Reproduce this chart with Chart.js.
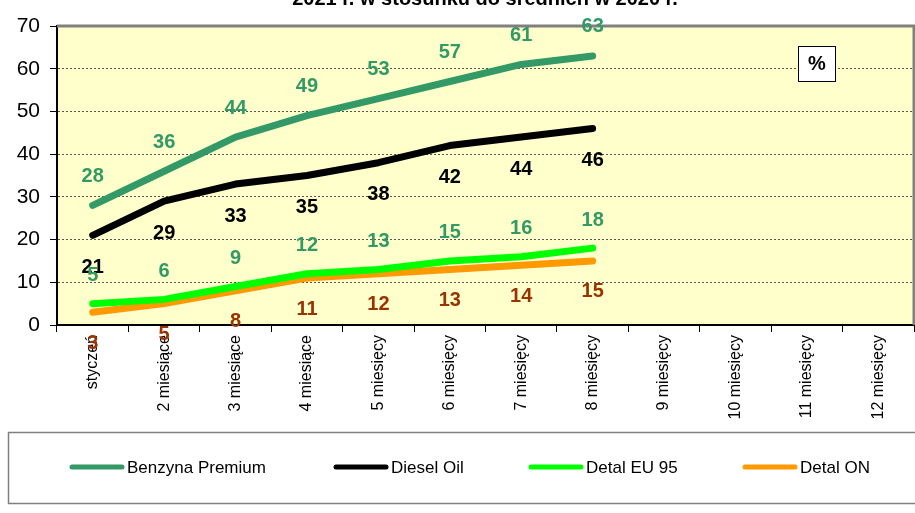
<!DOCTYPE html>
<html><head><meta charset="utf-8">
<script src="https://cdn.jsdelivr.net/npm/chart.js@4/dist/chart.umd.min.js"></script>
<style>html,body{margin:0;padding:0;background:#fff}#wrap{width:915px;height:513px;position:relative}</style>
</head><body><div id="wrap"><canvas id="c" width="915" height="513"></canvas></div>
<script>
const categories = ['styczeń','2 miesiące','3 miesiące','4 miesiące','5 miesięcy','6 miesięcy','7 miesięcy','8 miesięcy','9 miesięcy','10 miesięcy','11 miesięcy','12 miesięcy'];
const benzynaPremium = [28,36,44,49,53,57,61,63];
const dieselOil = [21,29,33,35,38,42,44,46];
const detalEU95 = [5,6,9,12,13,15,16,18];
const detalON = [3,5,8,11,12,13,14,15];
const seriesNames = ['Benzyna Premium','Diesel Oil','Detal EU 95','Detal ON'];
const yMin = 0, yMax = 70, yStep = 10;
const titleText = '2021 r. w stosunku do średnich w 2020 r.';
const unitText = '%';

const FONT = "'Liberation Sans', Arial, sans-serif";
const lineColors = ['#339966','#000000','#00FF00','#FF9900'];
const labelColors = ['#339966','#000000','#339966','#993300'];
const labelOffsets = [-29, 32, -28, 31];

const bgPlugin = {
  id: 'bg',
  beforeDraw(chart) {
    const {ctx, chartArea: a} = chart;
    ctx.save();
    ctx.fillStyle = '#FFFFCC';
    ctx.fillRect(a.left, a.top, a.right - a.left, a.bottom - a.top);
    ctx.fillStyle = '#000';
    ctx.font = 'bold 20px ' + FONT;
    ctx.textAlign = 'center';
    ctx.textBaseline = 'alphabetic';
    ctx.fillText(titleText, 485, 5);
    ctx.restore();
  },
  beforeDatasetsDraw(chart) {
    const {ctx, chartArea: a} = chart;
    ctx.save();
    ctx.strokeStyle = '#808080';
    ctx.lineWidth = 3;
    ctx.beginPath();
    ctx.moveTo(a.left, a.top);
    ctx.lineTo(a.right, a.top);
    ctx.lineTo(a.right, a.bottom);
    ctx.stroke();
    ctx.fillStyle = '#fff';
    ctx.fillRect(798, 46, 37, 35);
    ctx.strokeStyle = '#000';
    ctx.lineWidth = 1;
    ctx.strokeRect(798.5, 46.5, 37, 35);
    ctx.fillStyle = '#000';
    ctx.font = 'bold 20px ' + FONT;
    ctx.textAlign = 'center';
    ctx.textBaseline = 'middle';
    ctx.fillText(unitText, 817, 64);
    ctx.restore();
  },
  afterDatasetsDraw(chart) {
    const {ctx} = chart;
    ctx.save();
    ctx.font = 'bold 20px ' + FONT;
    ctx.textAlign = 'center';
    ctx.textBaseline = 'middle';
    chart.data.datasets.forEach((ds, i) => {
      const meta = chart.getDatasetMeta(i);
      ctx.fillStyle = labelColors[i];
      meta.data.forEach((pt, j) => {
        const v = ds.data[j];
        if (v == null) return;
        ctx.fillText(String(v), pt.x, pt.y + labelOffsets[i]);
      });
    });
    ctx.strokeStyle = '#808080';
    ctx.lineWidth = 1.5;
    ctx.strokeRect(8.5, 432.5, 915, 71);
    const xs = [70, 334, 529, 743];
    const ly = 467;
    chart.data.datasets.forEach((ds, i) => {
      ctx.strokeStyle = lineColors[i];
      ctx.lineWidth = 5;
      ctx.lineCap = 'round';
      ctx.beginPath();
      ctx.moveTo(xs[i] + 2, ly);
      ctx.lineTo(xs[i] + 52, ly);
      ctx.stroke();
      ctx.fillStyle = '#000';
      ctx.font = '17px ' + FONT;
      ctx.textAlign = 'left';
      ctx.fillText(ds.label, xs[i] + 57, ly + 1);
    });
    ctx.restore();
  }
};

const seriesData = [benzynaPremium, dieselOil, detalEU95, detalON];
new Chart(document.getElementById('c'), {
  type: 'line',
  data: {
    labels: categories,
    datasets: seriesData.map((d, i) => ({
      label: seriesNames[i],
      data: d,
      borderColor: lineColors[i],
      backgroundColor: lineColors[i],
      borderWidth: 7,
      borderCapStyle: 'round',
      borderJoinStyle: 'round',
      pointRadius: 0,
      tension: 0,
      fill: false
    }))
  },
  options: {
    responsive: false,
    devicePixelRatio: 1,
    animation: false,
    layout: {padding: {left: 0, top: 26, right: 1, bottom: 0}},
    plugins: {legend: {display: false}, title: {display: false}, tooltip: {enabled: false}},
    scales: {
      x: {
        offset: true,
        grid: {offset: true, drawOnChartArea: false, color: '#000', tickLength: 7, tickWidth: 1},
        border: {color: '#000', width: 2},
        ticks: {minRotation: 90, maxRotation: 90, autoSkip: false, padding: 3, color: '#000', font: {family: FONT, size: 16}},
        afterFit(s) { s.height = 188; }
      },
      y: {
        min: yMin, max: yMax,
        grid: {color: '#555', lineWidth: 1, tickColor: '#000', tickLength: 7},
        border: {color: '#000', width: 2, dash: [2, 2]},
        ticks: {stepSize: yStep, padding: 10, color: '#000', font: {family: FONT, size: 21}},
        afterFit(s) { s.width = 57; }
      }
    }
  },
  plugins: [bgPlugin]
});
</script>
</body></html>
